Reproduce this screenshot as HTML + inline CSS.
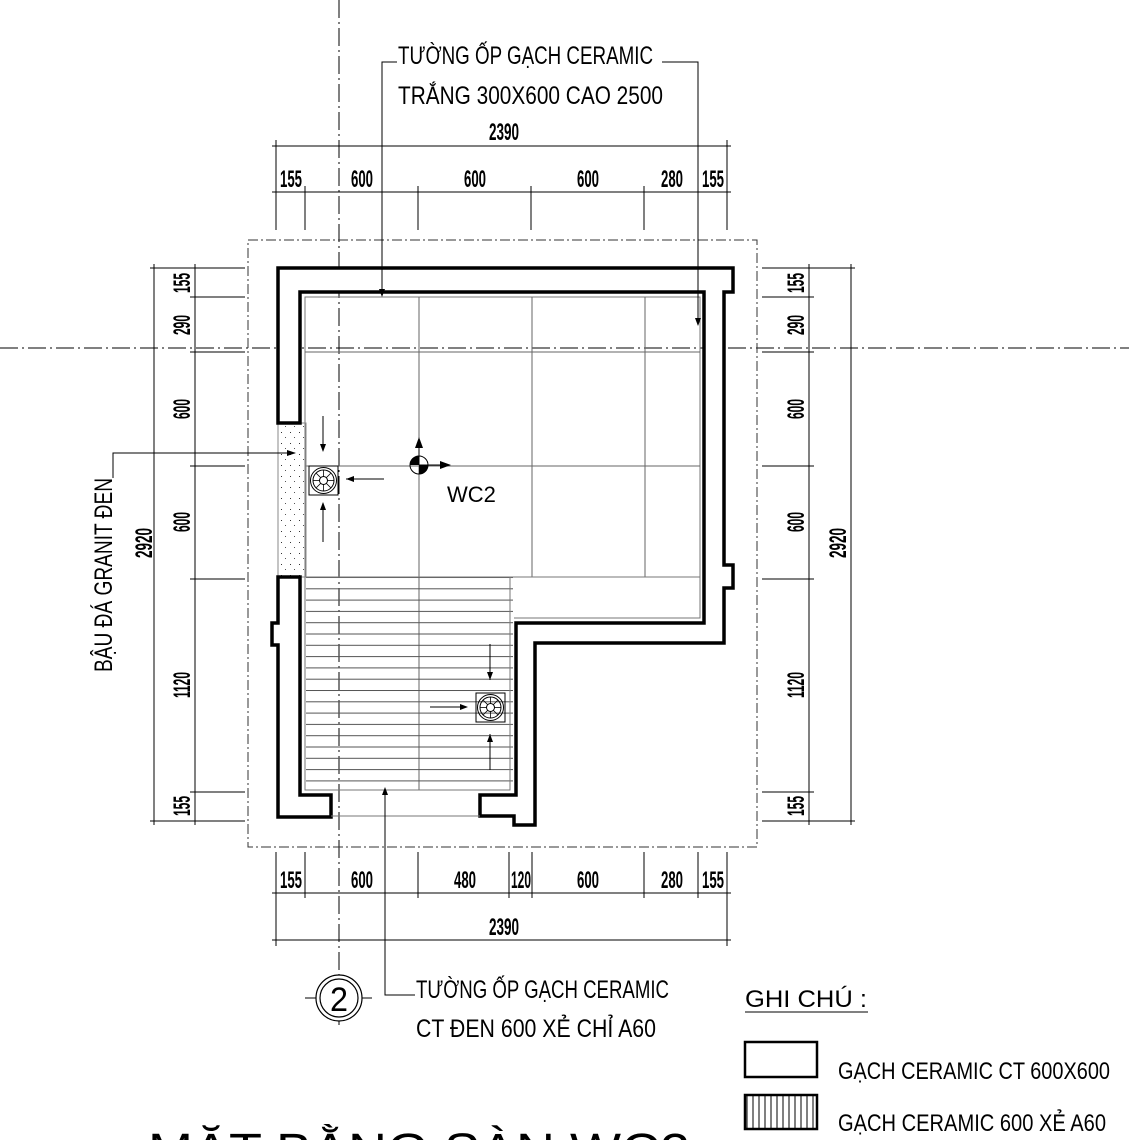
<!DOCTYPE html>
<html><head><meta charset="utf-8"><style>
html,body{margin:0;padding:0;background:#fff;width:1129px;height:1140px;overflow:hidden}
svg{display:block}
.t{font-family:"Liberation Sans",sans-serif;fill:#000}
.d{font-family:"Liberation Sans",sans-serif;font-size:24px;font-weight:bold;fill:#000}
</style></head><body>
<svg width="1129" height="1140" viewBox="0 0 1129 1140" xmlns="http://www.w3.org/2000/svg">
<defs>
<pattern id="hl" x="0" y="577" width="10" height="11.3" patternUnits="userSpaceOnUse">
<line x1="0" y1="0.5" x2="10" y2="0.5" stroke="#555" stroke-width="1"/>
</pattern>
<pattern id="vl" x="744" y="0" width="6" height="10" patternUnits="userSpaceOnUse">
<line x1="3" y1="0" x2="3" y2="10" stroke="#000" stroke-width="1"/>
</pattern>
<pattern id="dots" width="9" height="11" patternUnits="userSpaceOnUse">
<rect x="2" y="3" width="1" height="1" fill="#333"/><rect x="6" y="8" width="1" height="1" fill="#555"/>
</pattern>
<g id="drain">
<rect x="-14.5" y="-14.5" width="29" height="29" fill="none" stroke="#000"/>
<circle r="13" fill="none" stroke="#000"/><circle r="10.5" fill="none" stroke="#000"/><circle r="4" fill="none" stroke="#000"/>
<g stroke="#000" stroke-width="0.8">
<line x1="0" y1="-4" x2="0" y2="-10.5"/><line x1="0" y1="4" x2="0" y2="10.5"/><line x1="-4" y1="0" x2="-10.5" y2="0"/><line x1="4" y1="0" x2="10.5" y2="0"/>
<line x1="2.8" y1="2.8" x2="7.4" y2="7.4"/><line x1="-2.8" y1="2.8" x2="-7.4" y2="7.4"/><line x1="2.8" y1="-2.8" x2="7.4" y2="-7.4"/><line x1="-2.8" y1="-2.8" x2="-7.4" y2="-7.4"/>
</g>
</g>
</defs>

<line x1="339" y1="0" x2="339" y2="1025" stroke="#000" stroke-width="1" stroke-dasharray="18,4,2,4"/>
<line x1="0" y1="348" x2="1129" y2="348" stroke="#000" stroke-width="1" stroke-dasharray="18,4,2,4"/>
<rect x="248" y="240" width="509" height="607" fill="none" stroke="#333" stroke-width="1" stroke-dasharray="10,3,2,3"/>

<rect x="305" y="297" width="395" height="280" fill="none" stroke="#777" stroke-width="1"/>
<line x1="305" y1="352" x2="700" y2="352" stroke="#666"/>
<line x1="305" y1="466" x2="700" y2="466" stroke="#666"/>
<line x1="419" y1="297" x2="419" y2="790" stroke="#666"/>
<line x1="532" y1="297" x2="532" y2="577" stroke="#666"/>
<line x1="645" y1="297" x2="645" y2="577" stroke="#666"/>
<rect x="306" y="577" width="207" height="213" fill="url(#hl)"/>
<polyline points="305,577 510,577 510,790 305,790 305,577" fill="none" stroke="#777"/>
<polyline points="510,577 700,577 700,618 514,618" fill="none" stroke="#777"/>
<rect x="278" y="423" width="28" height="154" fill="url(#dots)" stroke="#888" stroke-width="1"/>

<polygon points="278,268 733,268 733,292 724,292 724,565 733,565 733,588 724,588 724,643 535,643 535,825 514,825 514,816 480,816 480,795 516,795 516,623 704,623 704,292 300,292 300,423 278,423" fill="#fff" stroke="#000" stroke-width="3.5" stroke-linejoin="miter"/>
<polygon points="278,577 300,577 300,795 331,795 331,817 278,817 278,645 272,645 272,623 278,623" fill="#fff" stroke="#000" stroke-width="3.5"/>
<line x1="331" y1="816" x2="480" y2="816" stroke="#777"/>

<use href="#drain" x="323.5" y="480.5"/>
<use href="#drain" x="490.5" y="707.5"/>
<g stroke="#000" stroke-width="1">
<line x1="323" y1="416" x2="323" y2="451"/><line x1="323" y1="503" x2="323" y2="542"/><line x1="346" y1="479" x2="384" y2="479"/>
<line x1="490" y1="644" x2="490" y2="680"/><line x1="490" y1="734" x2="490" y2="770"/><line x1="430" y1="707" x2="466" y2="707"/>
</g>
<g fill="#000">
<polygon points="320,444 326,444 323,452"/><polygon points="320,510 326,510 323,502"/><polygon points="354,476 354,482 346,479"/>
<polygon points="487,672 493,672 490,680"/><polygon points="487,742 493,742 490,734"/><polygon points="460,704 460,710 468,707"/>
</g>
<circle cx="419" cy="465" r="9" fill="none" stroke="#000"/>
<path d="M419,465 L419,456 A9,9 0 0 0 410,465Z M419,465 L428,465 A9,9 0 0 1 419,474Z" fill="#000"/>
<line x1="419" y1="465" x2="419" y2="446" stroke="#000"/><polygon points="415,448 423,448 419,437" fill="#000"/>
<line x1="419" y1="465" x2="442" y2="465" stroke="#000"/><polygon points="440,461 440,469 451,465" fill="#000"/>
<text x="447" y="502" class="t" font-size="22">WC2</text>

<g stroke="#000" stroke-width="1">
<line x1="272" y1="146" x2="731" y2="146"/><line x1="272" y1="192" x2="731" y2="192"/>
<line x1="276" y1="140" x2="276" y2="230"/><line x1="727" y1="140" x2="727" y2="230"/>
<line x1="305" y1="186" x2="305" y2="230"/><line x1="418" y1="186" x2="418" y2="230"/><line x1="531" y1="186" x2="531" y2="230"/><line x1="644" y1="186" x2="644" y2="230"/><line x1="698" y1="186" x2="698" y2="230"/>
<line x1="272" y1="893" x2="731" y2="893"/><line x1="272" y1="940" x2="731" y2="940"/>
<line x1="276" y1="852" x2="276" y2="946"/><line x1="727" y1="852" x2="727" y2="946"/>
<line x1="305" y1="852" x2="305" y2="898"/><line x1="418" y1="852" x2="418" y2="898"/><line x1="509" y1="852" x2="509" y2="898"/><line x1="532" y1="852" x2="532" y2="898"/><line x1="644" y1="852" x2="644" y2="898"/><line x1="698" y1="852" x2="698" y2="898"/>
<line x1="154" y1="264" x2="154" y2="825"/><line x1="195" y1="264" x2="195" y2="825"/>
<line x1="150" y1="268" x2="245" y2="268"/><line x1="150" y1="821" x2="245" y2="821"/>
<line x1="190" y1="297" x2="245" y2="297"/><line x1="190" y1="352" x2="245" y2="352"/><line x1="190" y1="466" x2="245" y2="466"/><line x1="190" y1="579" x2="245" y2="579"/><line x1="190" y1="792" x2="245" y2="792"/>
<line x1="809" y1="264" x2="809" y2="825"/><line x1="851" y1="264" x2="851" y2="825"/>
<line x1="762" y1="268" x2="855" y2="268"/><line x1="762" y1="821" x2="855" y2="821"/>
<line x1="762" y1="297" x2="814" y2="297"/><line x1="762" y1="352" x2="814" y2="352"/><line x1="762" y1="466" x2="814" y2="466"/><line x1="762" y1="579" x2="814" y2="579"/><line x1="762" y1="792" x2="814" y2="792"/>
</g>
<g class="d" text-anchor="middle">
<text x="504" y="140" textLength="30" lengthAdjust="spacingAndGlyphs">2390</text>
<text x="291" y="187" textLength="22" lengthAdjust="spacingAndGlyphs">155</text>
<text x="362" y="187" textLength="22" lengthAdjust="spacingAndGlyphs">600</text>
<text x="475" y="187" textLength="22" lengthAdjust="spacingAndGlyphs">600</text>
<text x="588" y="187" textLength="22" lengthAdjust="spacingAndGlyphs">600</text>
<text x="672" y="187" textLength="22" lengthAdjust="spacingAndGlyphs">280</text>
<text x="713" y="187" textLength="22" lengthAdjust="spacingAndGlyphs">155</text>
<text x="291" y="888" textLength="22" lengthAdjust="spacingAndGlyphs">155</text>
<text x="362" y="888" textLength="22" lengthAdjust="spacingAndGlyphs">600</text>
<text x="465" y="888" textLength="22" lengthAdjust="spacingAndGlyphs">480</text>
<text x="521" y="888" textLength="20" lengthAdjust="spacingAndGlyphs">120</text>
<text x="588" y="888" textLength="22" lengthAdjust="spacingAndGlyphs">600</text>
<text x="672" y="888" textLength="22" lengthAdjust="spacingAndGlyphs">280</text>
<text x="713" y="888" textLength="22" lengthAdjust="spacingAndGlyphs">155</text>
<text x="504" y="935" textLength="30" lengthAdjust="spacingAndGlyphs">2390</text>
</g>
<g class="d" text-anchor="middle">
<text transform="translate(190,283) rotate(-90)" textLength="20" lengthAdjust="spacingAndGlyphs">155</text>
<text transform="translate(190,325) rotate(-90)" textLength="20" lengthAdjust="spacingAndGlyphs">290</text>
<text transform="translate(190,409) rotate(-90)" textLength="20" lengthAdjust="spacingAndGlyphs">600</text>
<text transform="translate(190,522) rotate(-90)" textLength="20" lengthAdjust="spacingAndGlyphs">600</text>
<text transform="translate(190,685) rotate(-90)" textLength="26" lengthAdjust="spacingAndGlyphs">1120</text>
<text transform="translate(190,806) rotate(-90)" textLength="20" lengthAdjust="spacingAndGlyphs">155</text>
<text transform="translate(152,543) rotate(-90)" textLength="30" lengthAdjust="spacingAndGlyphs">2920</text>
<text transform="translate(804,283) rotate(-90)" textLength="20" lengthAdjust="spacingAndGlyphs">155</text>
<text transform="translate(804,325) rotate(-90)" textLength="20" lengthAdjust="spacingAndGlyphs">290</text>
<text transform="translate(804,409) rotate(-90)" textLength="20" lengthAdjust="spacingAndGlyphs">600</text>
<text transform="translate(804,522) rotate(-90)" textLength="20" lengthAdjust="spacingAndGlyphs">600</text>
<text transform="translate(804,685) rotate(-90)" textLength="26" lengthAdjust="spacingAndGlyphs">1120</text>
<text transform="translate(804,806) rotate(-90)" textLength="20" lengthAdjust="spacingAndGlyphs">155</text>
<text transform="translate(846,543) rotate(-90)" textLength="30" lengthAdjust="spacingAndGlyphs">2920</text>
</g>

<g stroke="#000" stroke-width="1" fill="none">
<polyline points="397,62 382,62 382,295"/>
<polyline points="662,62 698,62 698,325"/>
<polyline points="113,478 113,453 295,453"/>
<polyline points="385,790 385,995 415,995"/>
</g>
<g fill="#000">
<polygon points="379,289 385,289 382,297"/><polygon points="695,318 701,318 698,326"/>
<polygon points="287,450 287,456 296,453"/><polygon points="382,795 388,795 385,787"/>
</g>
<g class="t" font-size="25">
<text x="398" y="64" textLength="255" lengthAdjust="spacingAndGlyphs">TƯỜNG ỐP GẠCH CERAMIC</text>
<text x="398" y="104" textLength="265" lengthAdjust="spacingAndGlyphs">TRẮNG 300X600 CAO 2500</text>
<text x="416" y="998" textLength="253" lengthAdjust="spacingAndGlyphs">TƯỜNG ỐP GẠCH CERAMIC</text>
<text x="416" y="1037" textLength="240" lengthAdjust="spacingAndGlyphs">CT ĐEN 600 XẺ CHỈ A60</text>
<text transform="translate(112,672) rotate(-90)" textLength="194" lengthAdjust="spacingAndGlyphs">BẬU ĐÁ GRANIT ĐEN</text>
</g>

<circle cx="339" cy="998" r="23" fill="#fff" stroke="#000" stroke-width="1.2"/>
<circle cx="339" cy="998" r="19" fill="none" stroke="#000" stroke-width="1.2"/>
<line x1="305" y1="998" x2="316" y2="998" stroke="#000"/><line x1="362" y1="998" x2="372" y2="998" stroke="#000"/>
<text x="339" y="1011" class="t" font-size="34" text-anchor="middle" textLength="18" lengthAdjust="spacingAndGlyphs">2</text>

<text x="745" y="1007" class="t" font-size="24" textLength="122" lengthAdjust="spacingAndGlyphs">GHI CHÚ :</text>
<line x1="745" y1="1012" x2="868" y2="1012" stroke="#000"/>
<rect x="745" y="1042" width="72" height="35" fill="#fff" stroke="#000" stroke-width="2.5"/>
<rect x="745" y="1095" width="72" height="34" fill="url(#vl)" stroke="#000" stroke-width="2.5"/>
<g class="t" font-size="24">
<text x="838" y="1079" textLength="272" lengthAdjust="spacingAndGlyphs">GẠCH CERAMIC CT 600X600</text>
<text x="838" y="1131" textLength="268" lengthAdjust="spacingAndGlyphs">GẠCH CERAMIC 600 XẺ A60</text>
</g>
<text x="148" y="1167" class="t" font-size="48" textLength="542" lengthAdjust="spacingAndGlyphs">MẶT BẰNG SÀN WC2</text>
</svg>
</body></html>
